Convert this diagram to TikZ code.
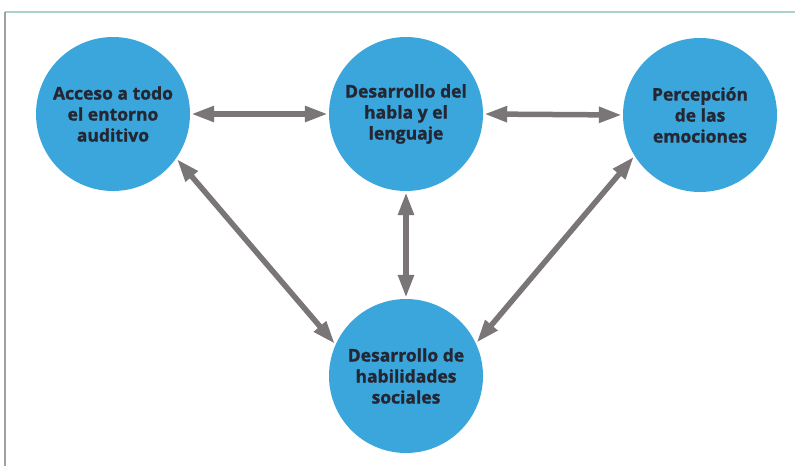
\documentclass[tikz,border=0pt]{standalone}
\usepackage{fontspec}
\setmainfont{Open Sans}[BoldFeatures={FakeBold=1.2}]
\usetikzlibrary{arrows.meta}
\definecolor{bubble}{RGB}{58,166,220}
\definecolor{arrowgray}{RGB}{122,118,120}
\definecolor{txt}{RGB}{36,38,50}
\definecolor{topline}{RGB}{168,212,192}
\definecolor{leftline}{RGB}{160,160,160}
\begin{document}
\begin{tikzpicture}[x=1pt,y=-1pt,
  bubble/.style={circle,fill=bubble,minimum size=154pt,inner sep=0pt,align=center,
    text=txt,font=\fontsize{17.5}{21}\selectfont\bfseries},
  link/.style={draw=arrowgray,line width=5.5pt,
    {Triangle[length=23pt,width=15pt]}-{Triangle[length=23pt,width=15pt]},
    shorten <=1pt,shorten >=1pt}]
\useasboundingbox (0,0) rectangle (795,466);
\fill[white] (0,0) rectangle (795,466);
\draw[topline,line width=1.5pt] (5,12) -- (795,12);
\draw[leftline,line width=2pt] (5,12) -- (5,466);
\node[bubble] (a) at (113,114) {Acceso a todo\\el entorno\\auditivo};
\node[bubble] (m) at (406,114) {Desarrollo del\\habla y el\\lenguaje};
\node[bubble] (p) at (700,115) {Percepción\\de las\\emociones};
\node[bubble] (b) at (406,376) {Desarrollo de\\habilidades\\sociales};
\draw[link] (a.east) -- (m.west);
\draw[link] (m.east) -- (p.west);
\draw[link] (m.south) -- (b.north);
\draw[link] (a.-35) -- (b.156);
\draw[link] (p.-148) -- (b.25);
\end{tikzpicture}
\end{document}
